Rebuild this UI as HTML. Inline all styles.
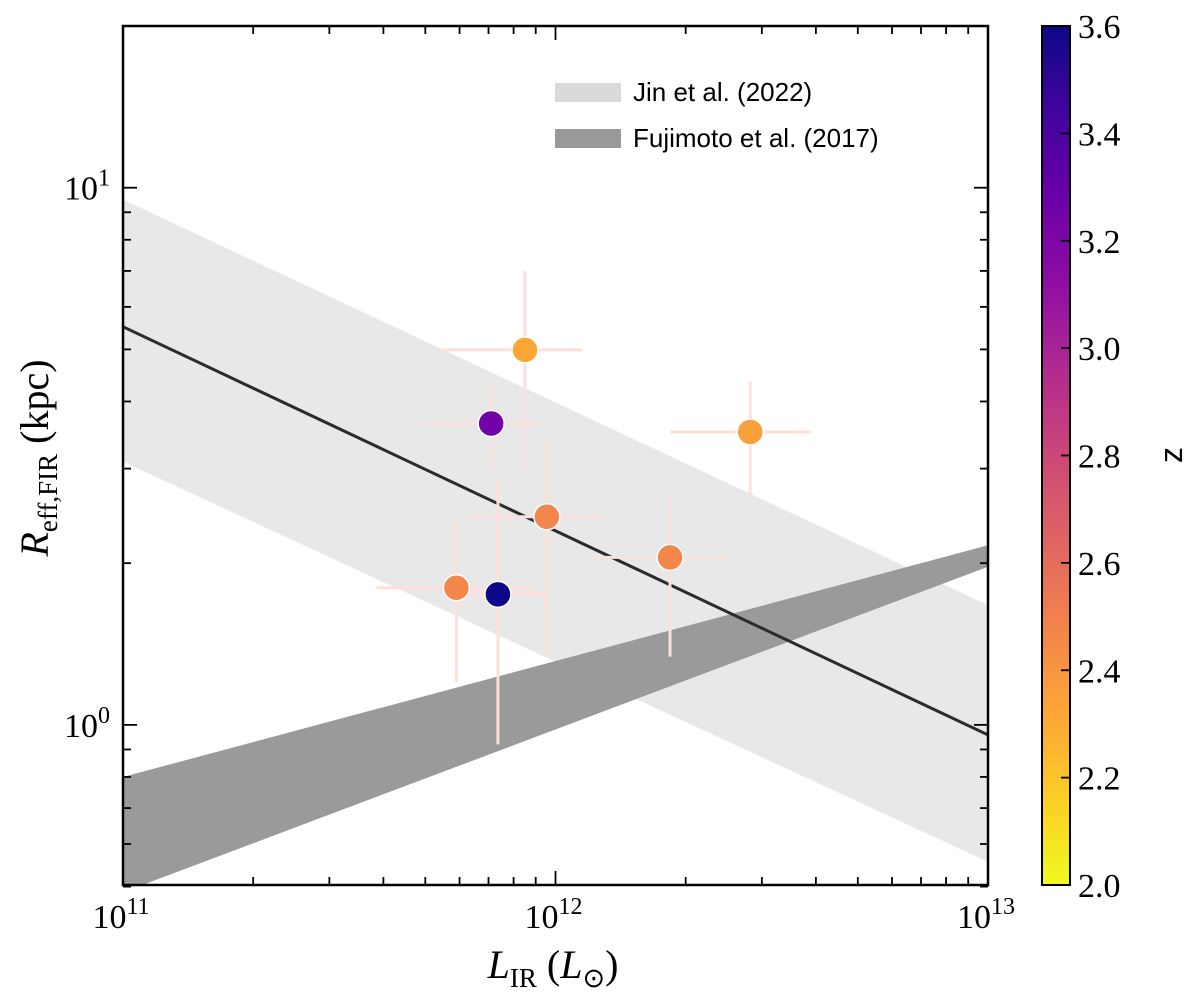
<!DOCTYPE html>
<html><head><meta charset="utf-8"><style>
html,body{margin:0;padding:0;background:#fff;}
svg{display:block;}
.tl{font-family:"Liberation Serif",serif;fill:#000;}
.lg{font-family:"Liberation Sans",sans-serif;fill:#000;}
</style></head><body>
<svg id="chart" width="1200" height="1000" xmlns="http://www.w3.org/2000/svg">
<g id="plot"></g>
</svg>
<script>
const lirValues=[8.5e11,7.1e11,2.82e12,9.55e11,1.84e12,5.9e11,7.36e11];
const reffValues=[4.99,3.64,3.51,2.44,2.05,1.8,1.75];
const zValues=[2.32,3.25,2.35,2.47,2.47,2.47,3.6];
const lirLo=[5.45e11,4.99e11,1.84e12,6.34e11,1.22e12,3.85e11,6.0e11];
const lirHi=[1.15e12,9.2e11,3.9e12,1.27e12,2.48e12,9.0e11,9.46e11];
const reffLo=[2.99,3.0,2.66,1.34,1.34,1.2,0.92];
const reffHi=[7.0,4.31,4.36,3.43,2.65,2.4,2.87];
const lineX=[1e11,1e13];
const lineY=[5.51,0.958];
const jinUpper=[9.5,1.67];
const jinLower=[3.09,0.556];
const fujUpper=[0.80,2.16];
const fujLower=[0.488,1.97];
const xMajor=[1e11,1e12,1e13];
const xMajorLabels=["11","12","13"];
const yMajor=[1,10];
const yMajorLabels=["0","1"];
const cbTicks=[2.0,2.2,2.4,2.6,2.8,3.0,3.2,3.4,3.6];

const NS="http://www.w3.org/2000/svg";
const L=123,R=988,T=26,B=885;
const xmin=11,xmax=13,ymin=Math.log10(0.5034),ymax=Math.log10(20.0);
function sx(v){return L+(Math.log10(v)-xmin)/(xmax-xmin)*(R-L);}
function sy(v){return B-(Math.log10(v)-ymin)/(ymax-ymin)*(B-T);}
const svg=document.getElementById('chart');
const plot=document.getElementById('plot');
function mk(tag,attrs,parent){const e=document.createElementNS(NS,tag);for(const k in attrs)e.setAttribute(k,attrs[k]);(parent||svg).appendChild(e);return e;}
const stops=["#0d0887","#41049d","#6a00a8","#8f0da4","#b12a90","#cc4778","#e16462","#f2844b","#fca636","#fcce25","#f0f921"];
function hex(h){return [1,3,5].map(i=>parseInt(h.substr(i,2),16));}
function plasma(t){t=Math.max(0,Math.min(1,t));const f=t*10,i=Math.min(9,Math.floor(f)),u=f-i;const a=hex(stops[i]),b=hex(stops[i+1]);return 'rgb('+a.map((v,k)=>Math.round(v+(b[k]-v)*u)).join(',')+')';}
function zc(z){return plasma(1-(z-2)/1.6);}

const defs=mk('defs',{});
const cp=mk('clipPath',{id:'clip'},defs);mk('rect',{x:L,y:T,width:R-L,height:B-T},cp);
const cg=mk('g',{'clip-path':'url(#clip)'},plot);
let jin=mk('polygon',{points:`${sx(lineX[0])},${sy(jinUpper[0])} ${sx(lineX[1])},${sy(jinUpper[1])} ${sx(lineX[1])},${sy(jinLower[1])} ${sx(lineX[0])},${sy(jinLower[0])}`,fill:'#e8e8e8'},cg);

let fuj=mk('polygon',{points:`${sx(lineX[0])},${sy(fujUpper[0])} ${sx(lineX[1])},${sy(fujUpper[1])} ${sx(lineX[1])},${sy(fujLower[1])} ${sx(lineX[0])},${sy(fujLower[0])}`,fill:'#9a9a9a'},cg);

let ln=mk('line',{x1:sx(lineX[0]),y1:sy(lineY[0]),x2:sx(lineX[1]),y2:sy(lineY[1]),stroke:'#2b2b2b','stroke-width':3},cg);

for(let i=0;i<lirValues.length;i++){
 const cx=sx(lirValues[i]),cy=sy(reffValues[i]);
 let eh=mk('line',{x1:sx(lirLo[i]),x2:sx(lirHi[i]),y1:cy,y2:cy,stroke:'#fde0dc','stroke-width':3},cg);
 
 let ev=mk('line',{x1:cx,x2:cx,y1:sy(reffLo[i]),y2:sy(reffHi[i]),stroke:'#fde0dc','stroke-width':3},cg);
 
}
for(let i=0;i<lirValues.length;i++){
 let p=mk('circle',{cx:sx(lirValues[i]),cy:sy(reffValues[i]),r:13,fill:zc(zValues[i]),stroke:'#fff','stroke-width':1.5},cg);
 
}
let fr=mk('rect',{x:L,y:T,width:R-L,height:B-T,fill:'none',stroke:'#000','stroke-width':2.5},plot);

for(let d=11;d<=13;d++)for(let m=1;m<=9;m++){
 if(d==13&&m>1)break;const v=m*Math.pow(10,d),x=sx(v),len=m==1?14:8;
 mk('line',{x1:x,x2:x,y1:B,y2:B-len,stroke:'#000','stroke-width':1.8});
 mk('line',{x1:x,x2:x,y1:T,y2:T+len,stroke:'#000','stroke-width':1.8});
}
xMajor.forEach((v,i)=>{const t=mk('text',{x:sx(v)-2,y:928,'text-anchor':'middle',class:'tl','font-size':34});
 t.innerHTML='10<tspan dy="-14" font-size="24">'+xMajorLabels[i]+'</tspan>';});
for(let d=-1;d<=1;d++)for(let m=1;m<=9;m++){
 const v=m*Math.pow(10,d);if(v<0.5||v>20)continue;const y=sy(v),len=m==1?14:8;
 mk('line',{x1:L,x2:L+len,y1:y,y2:y,stroke:'#000','stroke-width':1.8});
 mk('line',{x1:R,x2:R-len,y1:y,y2:y,stroke:'#000','stroke-width':1.8});
}
yMajor.forEach((v,i)=>{const t=mk('text',{x:110,y:sy(v)+12,'text-anchor':'end',class:'tl','font-size':34});
 t.innerHTML='10<tspan dy="-14" font-size="24">'+yMajorLabels[i]+'</tspan>';});
let xt=mk('text',{x:553,y:978,'text-anchor':'middle',class:'tl','font-size':40});

xt.innerHTML='<tspan font-style="italic">L</tspan><tspan dy="9" font-size="27">IR</tspan><tspan dy="-9"> (</tspan><tspan font-style="italic">L</tspan><tspan dy="9" font-size="27">⊙</tspan><tspan dy="-9">)</tspan>';
let yt=mk('text',{x:0,y:0,'text-anchor':'middle',class:'tl','font-size':40,transform:'translate(48,458) rotate(-90)'});

yt.innerHTML='<tspan font-style="italic">R</tspan><tspan dy="9" font-size="27">eff,FIR</tspan><tspan dy="-9"> (kpc)</tspan>';
let lg=mk('g',{},plot);
mk('rect',{x:555,y:83,width:66,height:19,fill:'#d9d9d9'},lg);
let l1=mk('text',{x:633,y:101,class:'lg','font-size':26},lg);l1.textContent='Jin et al. (2022)';

mk('rect',{x:555,y:129,width:66,height:19,fill:'#999'},lg);
let l2=mk('text',{x:633,y:147,class:'lg','font-size':26},lg);l2.textContent='Fujimoto et al. (2017)';

const grad=mk('linearGradient',{id:'cbg',x1:0,y1:1,x2:0,y2:0},defs);
for(let i=0;i<=20;i++){mk('stop',{offset:i/20,'stop-color':plasma(1-i/20)},grad);}
const CL=1042,CR=1070;
let cb=mk('rect',{x:CL,y:T,width:CR-CL,height:B-T,fill:'url(#cbg)',stroke:'#000','stroke-width':2});

cbTicks.forEach(z=>{const y=B-(z-2)/1.6*(B-T);
 mk('line',{x1:CR-9,x2:CR,y1:y,y2:y,stroke:'#000','stroke-width':1.8});
 const t=mk('text',{x:1078,y:y+12,class:'tl','font-size':34});t.textContent=z.toFixed(1);
 });
let zt=mk('text',{x:0,y:0,'text-anchor':'middle',class:'lg','font-size':32,transform:'translate(1182,455) rotate(-90)'});
zt.textContent='z';
</script>
</body></html>
